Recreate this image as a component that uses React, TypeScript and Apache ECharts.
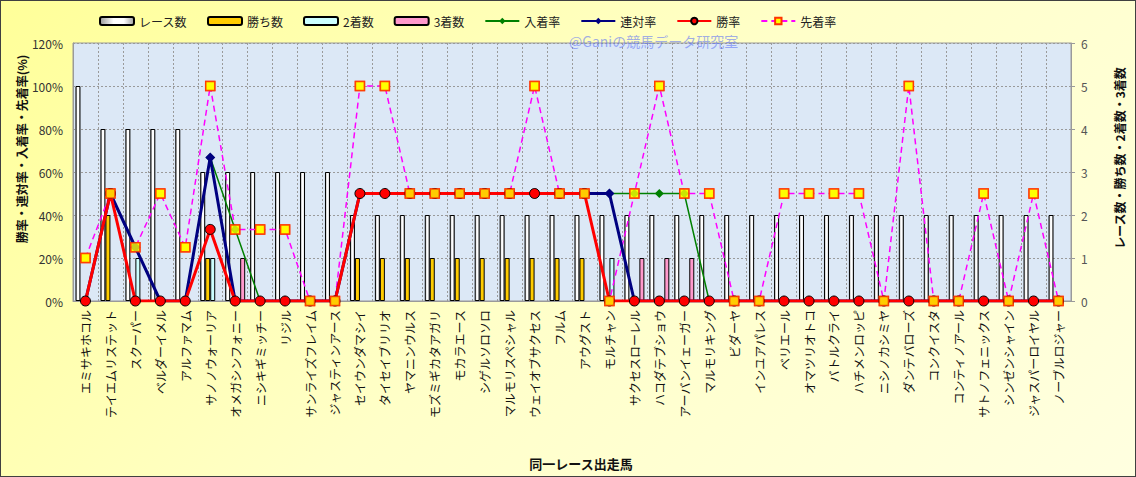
import React, { useEffect, useRef } from "react";
import * as echarts from "echarts";

const categories = [
  "エミサキホコル", "テイエムリステット", "スクーパー", "ベルダーイメル", "アルファマム",
  "サノノウォーリア", "オメガシンフォニー", "ニシキギミッチー", "リジル", "サンライズフレイム",
  "ジャスティンアース", "セイウンダマシイ", "タイセイブリリオ", "ヤマニンウルス", "モズミギカタアガリ",
  "モカラエース", "シゲルソロソロ", "マルモリスペシャル", "ウェイオブサクセス", "フルム",
  "アウグスト", "モルチャン", "サクセスローレル", "ハコダテブショウ", "アーバンイェーガー",
  "マルモリキング", "ビダーヤ", "インユアパレス", "ベリエール", "オマツリオトコ",
  "バトルクライ", "ハチメンロッピ", "ニシノカシミヤ", "ダンテバローズ", "コンクイスタ",
  "コンティノアール", "サトノフェニックス", "シンゼンシャイン", "ジャスパーロイヤル", "ノーブルロジャー",
];

const raceCounts = [5, 4, 4, 4, 4, 3, 3, 3, 3, 3, 3, 2, 2, 2, 2, 2, 2, 2, 2, 2, 2, 2, 2, 2, 2, 2, 2, 2, 2, 2, 2, 2, 2, 2, 2, 2, 2, 2, 2, 2];
const winCounts = [0, 2, 0, 0, 0, 1, 0, 0, 0, 0, 0, 1, 1, 1, 1, 1, 1, 1, 1, 1, 1, 0, 0, 0, 0, 0, 0, 0, 0, 0, 0, 0, 0, 0, 0, 0, 0, 0, 0, 0];
const secondCounts = [0, 0, 1, 0, 0, 1, 0, 0, 0, 0, 0, 0, 0, 0, 0, 0, 0, 0, 0, 0, 0, 1, 0, 0, 0, 0, 0, 0, 0, 0, 0, 0, 0, 0, 0, 0, 0, 0, 0, 0];
const thirdCounts = [0, 0, 0, 0, 0, 0, 1, 0, 0, 0, 0, 0, 0, 0, 0, 0, 0, 0, 0, 0, 0, 0, 1, 1, 1, 0, 0, 0, 0, 0, 0, 0, 0, 0, 0, 0, 0, 0, 0, 0];

const placeRate = [0, 50, 25, 0, 0, 66.7, 33.3, 0, 0, 0, 0, 50, 50, 50, 50, 50, 50, 50, 50, 50, 50, 50, 50, 50, 50, 0, 0, 0, 0, 0, 0, 0, 0, 0, 0, 0, 0, 0, 0, 0];
const rentaiRate = [0, 50, 25, 0, 0, 66.7, 0, 0, 0, 0, 0, 50, 50, 50, 50, 50, 50, 50, 50, 50, 50, 50, 0, 0, 0, 0, 0, 0, 0, 0, 0, 0, 0, 0, 0, 0, 0, 0, 0, 0];
const winRate = [0, 50, 0, 0, 0, 33.3, 0, 0, 0, 0, 0, 50, 50, 50, 50, 50, 50, 50, 50, 50, 50, 0, 0, 0, 0, 0, 0, 0, 0, 0, 0, 0, 0, 0, 0, 0, 0, 0, 0, 0];
const aheadRate = [20, 50, 25, 50, 25, 100, 33.3, 33.3, 33.3, 0, 0, 100, 100, 50, 50, 50, 50, 50, 100, 50, 50, 0, 50, 100, 50, 50, 0, 0, 50, 50, 50, 50, 0, 100, 0, 0, 50, 0, 50, 0];

const leftTicks = [0, 120, 20];
const rightTicks = [0, 6, 1];

// zero-height bars are not drawn (no border line on the axis)
const hideZero = (arr: number[]) => arr.map((v) => (v === 0 ? "-" : v));

export default function App() {
  const ref = useRef<HTMLDivElement>(null);

  useEffect(() => {
    if (!ref.current) return;
    const chart = echarts.init(ref.current, null, { renderer: "svg" });
    const font = '"Noto Sans CJK JP", "Noto Sans", sans-serif';
    const raceGrad = new echarts.graphic.LinearGradient(0, 0, 1, 0, [
      { offset: 0, color: "#9a9a9a" },
      { offset: 0.4, color: "#ffffff" },
      { offset: 0.7, color: "#ffffff" },
      { offset: 1, color: "#a0a0a0" },
    ]);
    const barCommon = {
      type: "bar" as const,
      yAxisIndex: 1,
      barWidth: 5,
      barGap: "0%",
      z: 1,
    };
    const squareStyle = { color: "#FFFF00", borderColor: "#FF3300", borderWidth: 1.5 };

    chart.setOption({
      animation: false,
      textStyle: { fontFamily: font },
      legend: {
        left: 93,
        top: 9,
        itemWidth: 34,
        itemHeight: 8,
        itemGap: 20,
        textStyle: { fontSize: 12, color: "#222", fontFamily: font },
        data: ["レース数", "勝ち数", "2着数", "3着数", "入着率", "連対率", "勝率", "先着率"],
      },
      grid: {
        left: 72,
        right: 64,
        top: 42,
        bottom: 175,
        show: true,
        backgroundColor: "#DCE8F6",
        borderColor: "#9a9a9a",
        borderWidth: 1,
        outerBoundsMode: "none",
      },
      graphic: [
        {
          type: "text",
          left: 568,
          top: 33,
          z: 100,
          style: {
            text: "@Ganiの競馬データ研究室",
            fontSize: 14,
            fontFamily: font,
            fill: "rgba(100,120,245,0.6)",
          },
        },
        {
          type: "text",
          x: 20,
          y: 148,
          rotation: Math.PI / 2,
          style: {
            text: "勝率・連対率・入着率・先着率(%)",
            fontSize: 12,
            fontWeight: "bold",
            fontFamily: font,
            fill: "#111",
            align: "center",
            verticalAlign: "middle",
          },
        },
        {
          type: "text",
          x: 1118,
          y: 157,
          rotation: Math.PI / 2,
          style: {
            text: "レース数・勝ち数・2着数・3着数",
            fontSize: 12,
            fontWeight: "bold",
            fontFamily: font,
            fill: "#111",
            align: "center",
            verticalAlign: "middle",
          },
        },
        {
          type: "text",
          x: 580,
          y: 462,
          style: {
            text: "同一レース出走馬",
            fontSize: 13,
            fontWeight: "bold",
            fontFamily: font,
            fill: "#111",
            align: "center",
            verticalAlign: "middle",
          },
        },
      ],
      xAxis: {
        type: "category",
        data: categories,
        boundaryGap: true,
        axisLine: { show: true, lineStyle: { color: "#9a9a9a" } },
        axisTick: { show: false },
        axisLabel: {
          rotate: 90,
          interval: 0,
          margin: 9,
          fontSize: 12,
          color: "#111",
          fontFamily: font,
        },
        splitLine: { show: true, lineStyle: { color: "#9a9a9a", type: [2, 2], width: 1 } },
      },
      yAxis: [
        {
          type: "value",
          min: leftTicks[0],
          max: leftTicks[1],
          interval: leftTicks[2],
          axisLine: { show: true, lineStyle: { color: "#9a9a9a" } },
          axisTick: { show: false },
          axisLabel: { formatter: "{value}%", fontSize: 12, color: "#333", margin: 10, fontFamily: font },
          splitLine: { show: true, lineStyle: { color: "#9a9a9a", type: [2, 2], width: 1 } },
        },
        {
          type: "value",
          min: rightTicks[0],
          max: rightTicks[1],
          interval: rightTicks[2],
          position: "right",
          axisLine: { show: true, lineStyle: { color: "#9a9a9a" } },
          axisTick: { show: true, length: 4, lineStyle: { color: "#9a9a9a" } },
          axisLabel: { fontSize: 12, color: "#555", margin: 10, fontFamily: font },
          splitLine: { show: false },
        },
      ],
      series: [
        {
          ...barCommon,
          name: "レース数",
          data: hideZero(raceCounts),
          itemStyle: { color: raceGrad, borderColor: "#000", borderWidth: 1 },
        },
        {
          ...barCommon,
          name: "勝ち数",
          data: hideZero(winCounts),
          itemStyle: { color: "#FFCC00", borderColor: "#000", borderWidth: 1 },
        },
        {
          ...barCommon,
          name: "2着数",
          data: hideZero(secondCounts),
          itemStyle: { color: "#CCFFFF", borderColor: "#000", borderWidth: 1 },
        },
        {
          ...barCommon,
          name: "3着数",
          data: hideZero(thirdCounts),
          itemStyle: { color: "#FF99CC", borderColor: "#000", borderWidth: 1 },
        },
        {
          type: "line",
          name: "先着率",
          data: aheadRate,
          yAxisIndex: 0,
          z: 2,
          symbol: "rect",
          symbolSize: 9,
          lineStyle: { color: "#FF00FF", width: 1.5, type: [6, 4] },
          itemStyle: squareStyle,
        },
        {
          type: "line",
          name: "入着率",
          data: placeRate,
          yAxisIndex: 0,
          z: 3,
          symbol: "diamond",
          symbolSize: 9,
          lineStyle: { color: "#008000", width: 1.5 },
          itemStyle: { color: "#008000" },
        },
        {
          type: "line",
          name: "連対率",
          data: rentaiRate,
          yAxisIndex: 0,
          z: 4,
          symbol: "diamond",
          symbolSize: 10,
          lineStyle: { color: "#000080", width: 3 },
          itemStyle: { color: "#000080" },
        },
        {
          type: "line",
          name: "勝率",
          data: winRate,
          yAxisIndex: 0,
          z: 5,
          symbol: "circle",
          symbolSize: 10,
          lineStyle: { color: "#FF0000", width: 3 },
          itemStyle: { color: "#FF0000", borderColor: "#000", borderWidth: 1 },
        },
        {
          type: "scatter",
          name: "先着率マーカー",
          data: aheadRate,
          yAxisIndex: 0,
          z: 6,
          symbol: "rect",
          symbolSize: 9,
          itemStyle: squareStyle,
        },
      ],
    });
    return () => chart.dispose();
  }, []);

  return (
    <div
      style={{
        position: "fixed",
        left: 0,
        top: 0,
        width: 1136,
        height: 477,
        boxSizing: "border-box",
        border: "1px solid #404040",
        background: "linear-gradient(135deg, #FFFF99 0%, #FFFFC8 50%, #FFFFE0 100%)",
      }}
    >
      <div ref={ref} style={{ width: 1134, height: 475 }} />
    </div>
  );
}
